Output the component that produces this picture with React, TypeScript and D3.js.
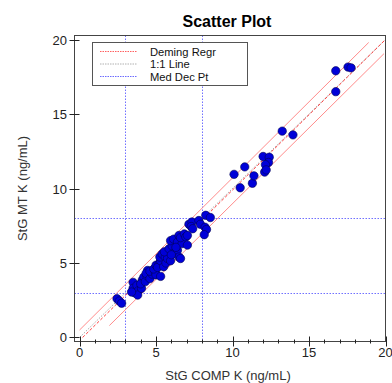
import * as d3 from 'd3';
import { useRef, useEffect } from 'react';

// paired measurements, x = StG COMP K, y = StG MT K (ng/mL)
const compK = [
  2.45, 2.6, 2.75, 3.5, 3.5, 3.6, 3.75, 3.85, 3.8, 3.4, 4.1, 4.05, 4.2, 4.0, 4.3,
  4.4, 4.45, 4.35, 4.6, 4.75, 4.6, 4.95, 5.0, 5.3, 4.85,
  5.0, 5.2, 5.1, 5.3, 5.5, 5.25, 5.4, 5.6, 5.65, 5.75, 5.95, 5.55, 5.85,
  6.05, 5.95, 6.15, 6.2, 6.4, 6.4, 6.5, 6.7, 6.6, 6.85, 6.95, 7.05, 7.05, 6.5, 6.6, 6.3, 6.0,
  7.15, 7.35, 7.3, 7.8, 7.9, 8.25, 8.55, 8.2, 8.3, 8.15, 7.4,
  10.1, 10.8, 10.5, 11.3, 11.4, 12.0, 12.4, 12.35, 12.15, 12.1, 12.2,
  13.25, 13.95,
  16.75, 17.55, 17.75, 16.75,
];
const mtK = [
  2.6, 2.45, 2.3, 3.7, 3.3, 3.0, 3.5, 3.15, 2.85, 3.05, 3.85, 3.3, 4.05, 3.6, 3.75,
  4.15, 4.5, 4.3, 3.95, 4.25, 4.45, 4.4, 4.2, 4.1, 4.6,
  4.85, 4.95, 4.7, 5.15, 4.75, 5.4, 5.6, 5.4, 5.0, 5.3, 5.15, 5.75, 5.95,
  6.15, 6.5, 6.6, 5.65, 5.85, 6.4, 6.85, 6.3, 6.7, 6.95, 6.75, 6.85, 6.2, 5.4, 5.3, 6.05, 5.55,
  7.6, 7.75, 7.45, 7.85, 7.6, 8.2, 8.05, 7.4, 7.25, 6.9, 7.3,
  10.95, 11.45, 10.05, 10.35, 10.85, 12.15, 12.1, 11.75, 11.6, 11.1, 11.25,
  13.85, 13.6,
  17.9, 18.15, 18.1, 16.5,
];

// fitted lines as [x0, y0, x1, y1]
const demingLine = [0.2, 0, 20, 20];
const upperBand = [0, 0.5, 18.9, 19.8];
const lowerBand = [1.95, 0.8, 19.9, 19.05];
const identityLine = [0, 0, 20, 20];
const decisionPoints = [3, 8];

const xTicks = [0, 5, 10, 15, 20];
const yTicks = [0, 5, 10, 15, 20];
const legendLabels = ['Deming Regr', '1:1 Line', 'Med Dec Pt'];

const W = 392;
const H = 383;

export default function App() {
  const ref = useRef<SVGSVGElement>(null);

  useEffect(() => {
    if (!ref.current) return;
    const svg = d3.select(ref.current);
    svg.selectAll('*').remove();

    const left = 74.5, right = 385.5, top = 35.5, bottom = 341.5;
    const x = d3.scaleLinear().domain([-0.33, 20]).range([left, right]);
    const y = d3.scaleLinear().domain([-0.27, 20.27]).range([bottom, top]);
    const px = (v: number) => Math.round(x(v)) + 0.5;
    const py = (v: number) => Math.round(y(v)) + 0.5;
    const font = 'Liberation Sans, Arial, sans-serif';

    svg.append('text')
      .attr('x', 227).attr('y', 27)
      .attr('text-anchor', 'middle')
      .style('font-family', font).style('font-size', '16px').style('font-weight', 'bold')
      .text('Scatter Plot');

    const plot = svg.append('g');
    plot.append('clipPath').attr('id', 'clip')
      .append('rect').attr('x', left).attr('y', top)
      .attr('width', right - left).attr('height', bottom - top);
    const inner = plot.append('g').attr('clip-path', 'url(#clip)');

    // medical decision points
    decisionPoints.forEach(v => {
      inner.append('line')
        .attr('x1', px(v)).attr('x2', px(v)).attr('y1', top).attr('y2', bottom)
        .attr('stroke', '#7070ff').attr('stroke-width', 1).attr('stroke-dasharray', '1.5,1.5');
      inner.append('line')
        .attr('x1', left).attr('x2', right).attr('y1', py(v)).attr('y2', py(v))
        .attr('stroke', '#7070ff').attr('stroke-width', 1).attr('stroke-dasharray', '1.5,1.5');
    });

    const seg = (d: number[], stroke: string, dash: string | null, w = 1) =>
      inner.append('line')
        .attr('x1', x(d[0])).attr('y1', y(d[1])).attr('x2', x(d[2])).attr('y2', y(d[3]))
        .attr('stroke', stroke).attr('stroke-width', w)
        .attr('stroke-dasharray', dash);

    seg(upperBand, '#ff8c8c', null);
    seg(lowerBand, '#ff8c8c', null);
    seg(identityLine, '#a8a8a8', '1.5,1.5');
    seg(demingLine, '#ff4040', '3,2');

    inner.selectAll('circle')
      .data(d3.range(compK.length))
      .enter()
      .append('circle')
      .attr('cx', i => x(compK[i]))
      .attr('cy', i => y(mtK[i]))
      .attr('r', 4.2)
      .attr('fill', '#0000d8')
      .attr('stroke', '#000050')
      .attr('stroke-width', 0.6);

    // frame
    svg.append('rect')
      .attr('x', left).attr('y', top)
      .attr('width', right - left).attr('height', bottom - top)
      .attr('fill', 'none').attr('stroke', '#444').attr('stroke-width', 1);

    // ticks
    const axis = svg.append('g').attr('stroke', '#222').attr('stroke-width', 1);
    d3.range(0, 21).forEach(v => {
      const major = v % 5 === 0;
      axis.append('line')
        .attr('x1', px(v)).attr('x2', px(v))
        .attr('y1', bottom - (major ? 5 : 2)).attr('y2', bottom + (major ? 5 : 2));
    });
    yTicks.forEach(v => {
      axis.append('line')
        .attr('x1', left - 5).attr('x2', left + 5)
        .attr('y1', py(v)).attr('y2', py(v));
    });

    svg.selectAll('.xt').data(xTicks).enter().append('text')
      .attr('x', d => x(d)).attr('y', 357)
      .attr('text-anchor', 'middle')
      .style('font-family', font).style('font-size', '13px').style('fill', '#222')
      .text(d => d);
    svg.selectAll('.yt').data(yTicks).enter().append('text')
      .attr('x', 67).attr('y', d => y(d) + 5)
      .attr('text-anchor', 'end')
      .style('font-family', font).style('font-size', '13px').style('fill', '#222')
      .text(d => d);

    svg.append('text')
      .attr('x', 228).attr('y', 380)
      .attr('text-anchor', 'middle')
      .style('font-family', font).style('font-size', '13px').style('fill', '#333')
      .text('StG COMP K (ng/mL)');
    svg.append('text')
      .attr('transform', `translate(27,${(top + bottom) / 2}) rotate(-90)`)
      .attr('text-anchor', 'middle')
      .style('font-family', font).style('font-size', '13px').style('fill', '#333')
      .text('StG MT K (ng/mL)');

    // legend
    const lg = svg.append('g');
    lg.append('rect')
      .attr('x', 92.5).attr('y', 42.5).attr('width', 155).attr('height', 43)
      .attr('fill', 'white').attr('stroke', '#555').attr('stroke-width', 1);
    const styles = [
      { stroke: '#ff6060', dash: '1.5,1' },
      { stroke: '#b0b0b0', dash: '1.5,1' },
      { stroke: '#6b6bff', dash: '1.5,1' },
    ];
    legendLabels.forEach((label, i) => {
      const ly = 51.5 + i * 12.5;
      lg.append('line')
        .attr('x1', 100).attr('x2', 137).attr('y1', ly).attr('y2', ly)
        .attr('stroke', styles[i].stroke).attr('stroke-dasharray', styles[i].dash);
      lg.append('text')
        .attr('x', 150).attr('y', ly + 4)
        .style('font-family', font).style('font-size', '11.2px').style('fill', '#111')
        .text(label);
    });
  }, []);

  return <svg ref={ref} width={W} height={H} style={{ position: 'absolute', left: 0, top: 0 }}></svg>;
}
